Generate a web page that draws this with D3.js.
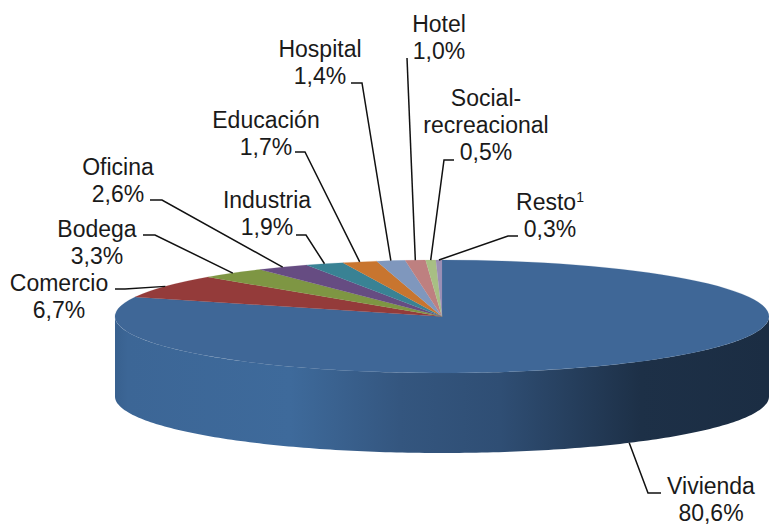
<!DOCTYPE html>
<html><head><meta charset="utf-8">
<script src="https://cdn.jsdelivr.net/npm/d3@7"></script>
<style>html,body{margin:0;padding:0;background:#fff}svg{display:block}text{font-family:"Liberation Sans",Arial,sans-serif;font-size:23px;fill:#1a1a1a;text-anchor:middle}</style>
</head><body><svg id="c" width="769" height="525"></svg>
<script>
const categories=["Vivienda","Comercio","Bodega","Oficina","Industria","Educación","Hospital","Hotel","Social-recreacional","Resto"];
const values=[80.6,6.7,3.3,2.6,1.9,1.7,1.4,1.0,0.5,0.3];
const colors=["#3f6797","#943b3a","#7e9643","#664c82","#398294","#c8752f","#7f97bd","#be8080","#a8bf84","#9b8fb5"];
const labelLines=[["Vivienda"],["Comercio"],["Bodega"],["Oficina"],["Industria"],["Educación"],["Hospital"],["Hotel"],["Social-","recreacional"],["Resto"]];
const labelCenters=[711,59,97,118,267,266,320,439,486,550];
const labelBaselines=[494,291,237,175,208,128,57,32,106,210];
const leaderBends=[[[648,493],[661,493]],[[125,289],[115,289]],[[155,235],[143,235]],[[162,200],[150,200]],[[306,235],[296,235]],[[305,152],[295,152]],[[362,83],[351,83]],[[407,58]],[[444,160],[454,160]],[[508,236],[518,236]]];
const sideStops=[[114,"#38608e"],[128,"#3c6696"],[290,"#3e6a9b"],[400,"#34567f"],[500,"#2f4e74"],[640,"#1d3047"],[769,"#1b2d43"]];

const cx=442,cy=316.5,rx=327,ry=56.5,depth=80;
const svg=d3.select("#c");
const defs=svg.append("defs");
const grad=defs.append("linearGradient").attr("id","side").attr("gradientUnits","userSpaceOnUse")
  .attr("x1",114).attr("x2",769).attr("y1",0).attr("y2",0);
grad.selectAll("stop").data(sideStops).join("stop")
  .attr("offset",d=>(d[0]-114)/(769-114)).attr("stop-color",d=>d[1]);

const pieData=d3.pie().value(d=>d).sort(null)(values);
const rim=(a,off=0)=>[cx+rx*Math.sin(a),cy-ry*Math.cos(a)+off];
const mid=d=>(d.startAngle+d.endAngle)/2;

// wall of the disc: lower half of the rim
const wallAngles=d3.range(90,270.5,1).map(d=>d*Math.PI/180);
svg.append("path").datum(wallAngles).attr("fill","url(#side)")
  .attr("d",d3.area().x(a=>rim(a)[0]).y0(a=>rim(a)[1]).y1(a=>rim(a,depth)[1]));

// top of the disc
const topFace=svg.append("g").attr("transform",`translate(${cx},${cy}) scale(1,${ry/rx})`);
const arc=d3.arc().innerRadius(0).outerRadius(rx);
topFace.selectAll("path").data(pieData).join("path").attr("d",arc)
  .attr("fill",(d,i)=>colors[i]).attr("stroke",(d,i)=>colors[i]).attr("stroke-width",0.3);

// leader lines
const lineGen=d3.line();
svg.append("g").selectAll("path").data(pieData).join("path")
  .attr("fill","none").attr("stroke","#111").attr("stroke-width",1.5)
  .attr("d",(d,i)=>{
    const m=mid(d);
    const front=Math.cos(m)<0;
    return lineGen([rim(m,front?depth:0),...leaderBends[i]]);
  });

// labels
const pct=v=>v.toFixed(1).replace(".",",")+"%";
const lab=svg.append("g");
pieData.forEach((d,i)=>{
  const lines=labelLines[i];
  lines.forEach((t,k)=>{
    const el=lab.append("text").attr("x",labelCenters[i]).attr("y",labelBaselines[i]+k*27).text(t);
    if(categories[i]==="Resto") el.append("tspan").attr("dy",-8).style("font-size","14px").text("1");
  });
  lab.append("text").attr("x",labelCenters[i]).attr("y",labelBaselines[i]+lines.length*27).text(pct(values[i]));
});
</script></body></html>
